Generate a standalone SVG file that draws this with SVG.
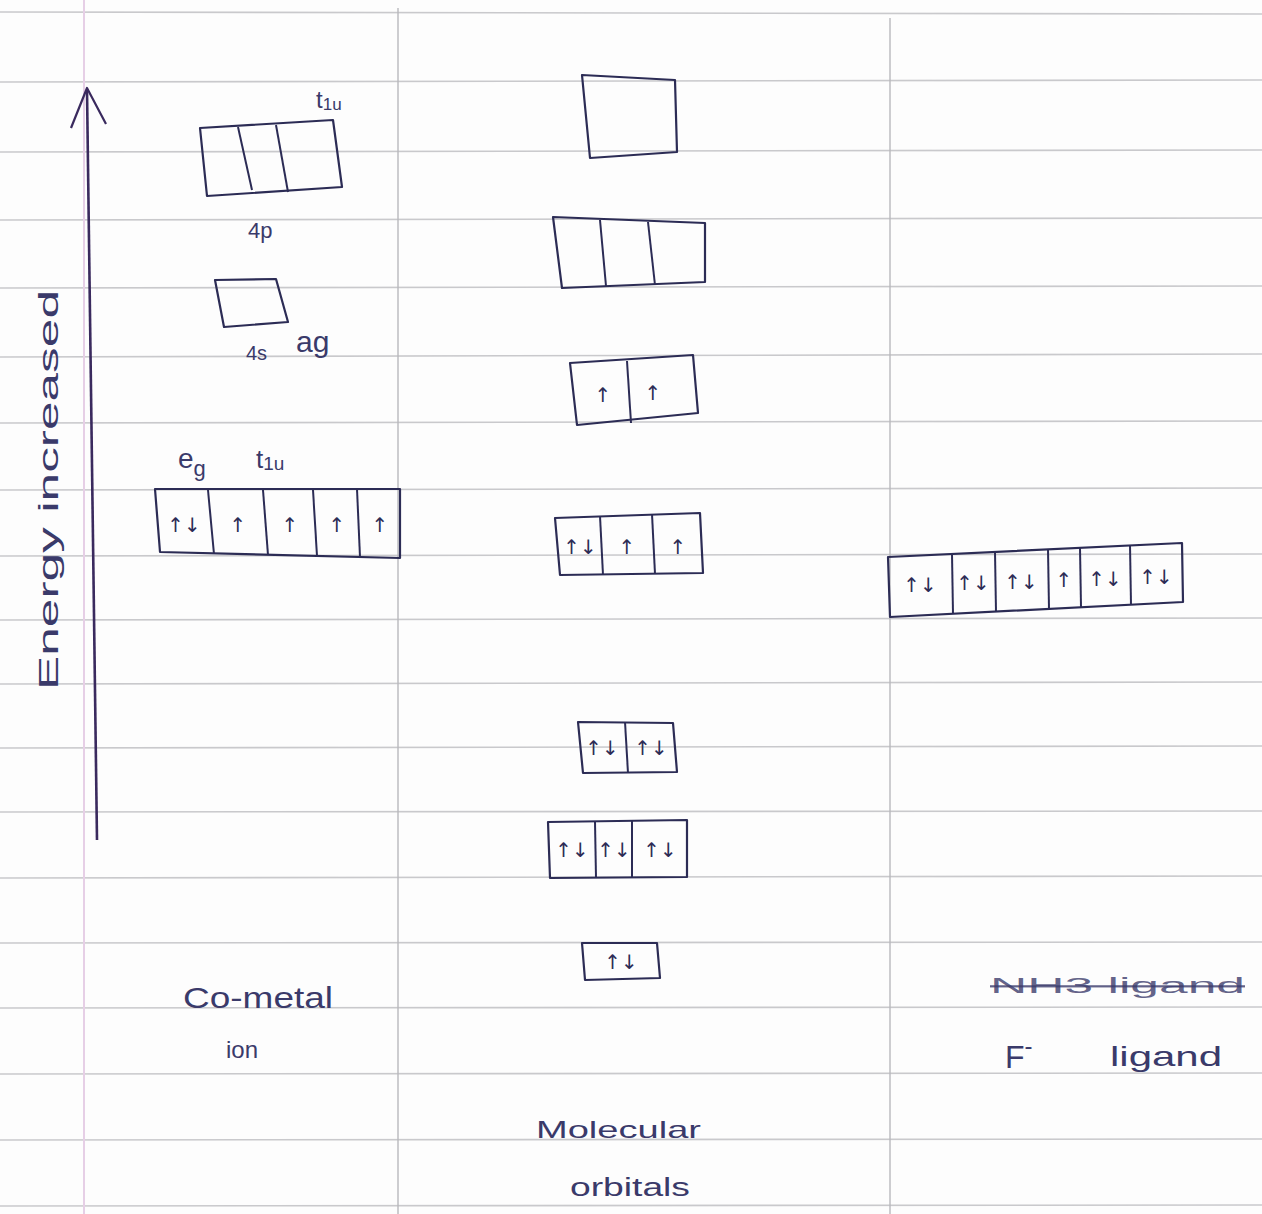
<svg xmlns="http://www.w3.org/2000/svg" width="1262" height="1214" viewBox="0 0 1262 1214">
<style>
.rule{stroke:#c9c9cc;stroke-width:1.6;fill:none}
.col{stroke:#b8b8bc;stroke-width:1.4;fill:none}
.box{stroke:#2c2c55;stroke-width:2.2;fill:none;stroke-linejoin:round}
.div{stroke:#2c2c55;stroke-width:2;fill:none}
.t{font-family:"Liberation Sans","DejaVu Sans",sans-serif;fill:#3a3a6a}
.e{font-family:"DejaVu Sans",sans-serif;fill:#2c2c55;font-size:20px;text-anchor:middle}
</style>
<rect width="1262" height="1214" fill="#fdfdfd"/>
<g id="paper">
<path class="rule" d="M0 12 L1262 14"/>
<path class="rule" d="M0 82 L1262 80"/>
<path class="rule" d="M0 152 L1262 150"/>
<path class="rule" d="M0 220 L1262 218"/>
<path class="rule" d="M0 288 L1262 286"/>
<path class="rule" d="M0 357 L1262 354"/>
<path class="rule" d="M0 423 L1262 421"/>
<path class="rule" d="M0 490 L1262 488"/>
<path class="rule" d="M0 556 L1262 554"/>
<path class="rule" d="M0 620 L1262 618"/>
<path class="rule" d="M0 684 L1262 682"/>
<path class="rule" d="M0 748 L1262 746"/>
<path class="rule" d="M0 812 L1262 811"/>
<path class="rule" d="M0 878 L1262 876"/>
<path class="rule" d="M0 943 L1262 942"/>
<path class="rule" d="M0 1008 L1262 1007"/>
<path class="rule" d="M0 1074 L1262 1073"/>
<path class="rule" d="M0 1140 L1262 1139"/>
<path class="rule" d="M0 1206 L1262 1205"/>
<path d="M84 0 L84 1214" stroke="#e6cfe6" stroke-width="2" fill="none"/>
<path class="col" d="M398 8 L398 1214"/>
<path class="col" d="M890 18 L890 1214"/>
</g>
<g id="connectors">
<path d="M97 840 L87 90" stroke="#3a2a5e" stroke-width="2.6" fill="none"/>
<path d="M71 128 L87 88 L106 124" stroke="#3a2a5e" stroke-width="2.2" fill="none" stroke-linejoin="round"/>
</g>
<g id="energy-label">
<text class="t" transform="translate(58,490) rotate(-90)" font-size="28" text-anchor="middle" textLength="400" lengthAdjust="spacingAndGlyphs">Energy  increased</text>
</g>
<g id="metal-4p">
<path class="box" d="M200 128 L333 120 L342 187 L207 196 Z"/>
<path class="div" d="M238 127 L252 190"/>
<path class="div" d="M276 125 L288 192"/>
<text class="t" x="316" y="108" font-size="24">t<tspan font-size="17" dy="2">1u</tspan></text>
<text class="t" x="248" y="238" font-size="22">4p</text>
</g>
<g id="metal-4s">
<path class="box" d="M215 280 L276 279 L288 322 L224 327 Z"/>
<text class="t" x="246" y="360" font-size="20">4s</text>
<text class="t" x="296" y="352" font-size="30">ag</text>
</g>
<g id="metal-3d">
<path class="box" d="M155 489 L400 489 L400 558 L160 552 Z"/>
<path class="div" d="M208 490 L214 554"/>
<path class="div" d="M263 490 L268 555"/>
<path class="div" d="M313 490 L317 556"/>
<path class="div" d="M357 489 L360 557"/>
<text class="e" x="184" y="532">↑↓</text>
<text class="e" x="238" y="532">↑</text>
<text class="e" x="290" y="532">↑</text>
<text class="e" x="337" y="532">↑</text>
<text class="e" x="380" y="532">↑</text>
<text class="t" x="178" y="468" font-size="28">e<tspan font-size="22" dy="8">g</tspan></text>
<text class="t" x="256" y="468" font-size="26">t<tspan font-size="19" dy="2">1u</tspan></text>
</g>
<g id="mo-1">
<path class="box" d="M582 75 L675 80 L677 152 L590 158 Z"/>
</g>
<g id="mo-2">
<path class="box" d="M553 217 L705 223 L705 282 L562 288 Z"/>
<path class="div" d="M600 220 L606 286"/>
<path class="div" d="M648 222 L655 285"/>
</g>
<g id="mo-3">
<path class="box" d="M570 363 L693 355 L698 413 L577 425 Z"/>
<path class="div" d="M627 361 L631 423"/>
<text class="e" x="603" y="402">↑</text>
<text class="e" x="653" y="400">↑</text>
</g>
<g id="mo-4">
<path class="box" d="M555 518 L700 513 L703 573 L560 575 Z"/>
<path class="div" d="M600 516 L603 575"/>
<path class="div" d="M652 514 L655 574"/>
<text class="e" x="580" y="554">↑↓</text>
<text class="e" x="627" y="554">↑</text>
<text class="e" x="678" y="554">↑</text>
</g>
<g id="mo-5">
<path class="box" d="M578 722 L673 723 L677 772 L583 773 Z"/>
<path class="div" d="M625 722 L628 773"/>
<text class="e" x="602" y="755">↑↓</text>
<text class="e" x="651" y="755">↑↓</text>
</g>
<g id="mo-6">
<path class="box" d="M548 822 L687 820 L687 877 L550 878 Z"/>
<path class="div" d="M595 822 L596 878"/>
<path class="div" d="M632 821 L632 877"/>
<text class="e" x="572" y="857">↑↓</text>
<text class="e" x="614" y="857">↑↓</text>
<text class="e" x="660" y="857">↑↓</text>
</g>
<g id="mo-7">
<path class="box" d="M582 943 L657 943 L660 978 L585 980 Z"/>
<text class="e" x="621" y="969">↑↓</text>
</g>
<g id="ligand">
<path class="box" d="M888 557 L1182 543 L1183 602 L890 617 Z"/>
<path class="div" d="M952 554 L953 614"/>
<path class="div" d="M995 552 L996 612"/>
<path class="div" d="M1048 549 L1049 609"/>
<path class="div" d="M1080 548 L1081 607"/>
<path class="div" d="M1130 545 L1131 605"/>
<text class="e" x="920" y="592">↑↓</text>
<text class="e" x="973" y="590">↑↓</text>
<text class="e" x="1021" y="589">↑↓</text>
<text class="e" x="1064" y="587">↑</text>
<text class="e" x="1105" y="586">↑↓</text>
<text class="e" x="1156" y="584">↑↓</text>
</g>
<g id="labels">
<text class="t" x="183" y="1008" font-size="30" textLength="150" lengthAdjust="spacingAndGlyphs">Co-metal</text>
<text class="t" x="226" y="1058" font-size="24">ion</text>
<text class="t" x="536" y="1138" font-size="24" textLength="165" lengthAdjust="spacingAndGlyphs">Molecular</text>
<text class="t" x="570" y="1196" font-size="26" textLength="120" lengthAdjust="spacingAndGlyphs">orbitals</text>
<text class="t" x="990" y="993" font-size="22" textLength="255" lengthAdjust="spacingAndGlyphs" text-decoration="line-through" fill-opacity="0.8">NH3 ligand</text>
<text class="t" x="1005" y="1068" font-size="32">F<tspan font-size="24" dy="-14">-</tspan></text>
<text class="t" x="1110" y="1066" font-size="28" textLength="112" lengthAdjust="spacingAndGlyphs">ligand</text>
</g>
</svg>
